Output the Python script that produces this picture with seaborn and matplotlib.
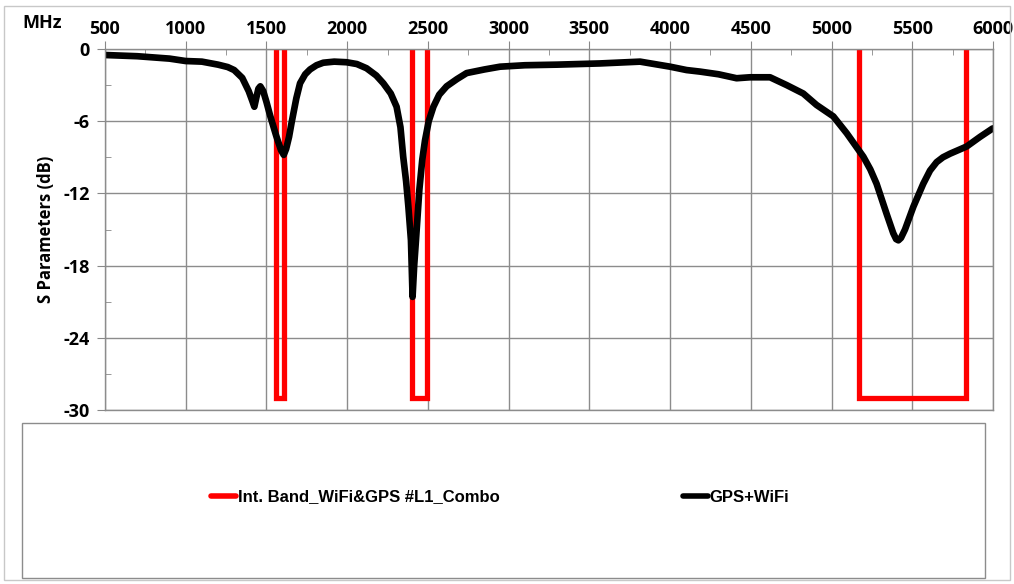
import numpy as np
import pandas as pd
import matplotlib
matplotlib.use('Agg')
import matplotlib.pyplot as plt
from matplotlib.patches import Rectangle
from matplotlib.ticker import MultipleLocator
import seaborn as sns

# measured S11 of the GPS+WiFi antenna (MHz, dB)
freq_mhz = [500, 700, 900, 1000, 1100, 1200, 1260, 1300, 1350, 1390, 1412, 1425, 1438,
            1450, 1462, 1480, 1500, 1522, 1560, 1590, 1607, 1622, 1640, 1656, 1685, 1708,
            1740, 1770, 1810, 1852, 1920, 1996, 2060, 2120, 2180, 2224, 2270, 2306, 2330,
            2347, 2365, 2379, 2395, 2405, 2415, 2426, 2447, 2465, 2482, 2505, 2534, 2570,
            2616, 2680, 2740, 2850, 2947, 3100, 3300, 3566, 3814, 4000, 4102, 4186, 4300,
            4412, 4495, 4619, 4722, 4825, 4907, 5011, 5094, 5197, 5240, 5279, 5341, 5382,
            5400, 5414, 5430, 5455, 5507, 5568, 5610, 5651, 5690, 5734, 5837, 5920, 5998]
s11_db = [-0.5, -0.6, -0.8, -1.0, -1.05, -1.3, -1.5, -1.75, -2.4, -3.5, -4.3, -4.8, -4.0,
          -3.3, -3.1, -3.5, -4.4, -5.5, -7.2, -8.4, -8.8, -8.3, -7.3, -6.1, -4.1, -2.85,
          -2.1, -1.7, -1.35, -1.14, -1.05, -1.1, -1.25, -1.6, -2.2, -2.85, -3.7, -4.8, -6.5,
          -8.95, -11.0, -13.1, -15.9, -20.6, -18.0, -15.9, -11.7, -9.2, -7.6, -6.0, -4.8,
          -3.8, -3.1, -2.5, -2.0, -1.7, -1.47, -1.35, -1.3, -1.2, -1.05, -1.47, -1.75, -1.88,
          -2.1, -2.43, -2.35, -2.35, -3.0, -3.7, -4.65, -5.6, -7.0, -8.95, -10.0, -11.2,
          -13.7, -15.3, -15.8, -15.9, -15.7, -15.0, -13.1, -11.2, -10.1, -9.4, -9.0, -8.7,
          -8.1, -7.3, -6.6]

# intended bands: GPS L1, WiFi 2.4 GHz, WiFi 5 GHz
band_lo = [1559, 2400, 5168]
band_hi = [1610, 2495, 5833]
band_top = 0
band_floor = -29

x_ticks = [500, 1000, 1500, 2000, 2500, 3000, 3500, 4000, 4500, 5000, 5500, 6000]
y_ticks = [0, -6, -12, -18, -24, -30]

sns.set_style('white')
plt.rcParams['font.family'] = ['Open Sans', 'DejaVu Sans']
plt.rcParams['axes.unicode_minus'] = False
plt.rcParams['text.color'] = 'black'
plt.rcParams['axes.labelcolor'] = 'black'
plt.rcParams['xtick.labelcolor'] = 'black'
plt.rcParams['ytick.labelcolor'] = 'black'

curve = pd.DataFrame({'freq': freq_mhz, 'db': s11_db})
rows = []
for i, (lo, hi) in enumerate(zip(band_lo, band_hi)):
    for x, y in [(lo, band_top), (lo, band_floor), (hi, band_floor), (hi, band_top)]:
        rows.append({'band': i, 'freq': x, 'db': y})
bands = pd.DataFrame(rows)

fig = plt.figure(figsize=(10.14, 5.84), dpi=100)
fig.patches.append(Rectangle((0.004, 0.007), 0.992, 0.982, transform=fig.transFigure,
                             fill=False, edgecolor='#c8c8c8', lw=1))
ax = fig.add_axes([105/1014, 1-410/584, 888/1014, 361/584])

sns.lineplot(data=bands, x='freq', y='db', units='band', estimator=None, sort=False,
             color='#ff0000', lw=3.8, ax=ax, legend=False, solid_joinstyle='miter')
sns.lineplot(data=curve, x='freq', y='db', sort=False, color='black', lw=4.8, ax=ax,
             legend=False, solid_joinstyle='round')

ax.set_xlim(500, 6000)
ax.set_ylim(-30, 0)
ax.xaxis.tick_top()
ax.set_xticks(x_ticks)
ax.set_yticks(y_ticks)
ax.xaxis.set_minor_locator(MultipleLocator(250))
ax.yaxis.set_minor_locator(MultipleLocator(3))
ax.tick_params(axis='both', which='major', direction='out', length=6, color='#888888',
               labelsize=13)
ax.tick_params(axis='both', which='minor', direction='in', length=4, color='#888888')
ax.tick_params(axis='x', which='both', top=True, bottom=False, pad=2)
ax.tick_params(axis='y', which='both', left=True, right=False, pad=5)
for lab in ax.get_xticklabels() + ax.get_yticklabels():
    lab.set_fontweight('bold')
ax.grid(True, which='major', color='#8c8c8c', lw=1)
for s in ax.spines.values():
    s.set_color('#8c8c8c')
    s.set_linewidth(1)
ax.set_xlabel('')
ax.set_ylabel('S Parameters (dB)', fontsize=12, fontweight='bold', labelpad=6)

fig.text(42/1014, 1-23/584, 'MHz', fontsize=13, fontweight='bold', ha='center', va='center')

# legend box under the plot
fig.patches.append(Rectangle((22/1014, 1-578/584), 963/1014, 155/584, transform=fig.transFigure,
                             fill=False, edgecolor='#8c8c8c', lw=1))
h1, = ax.plot([], [], color='#ff0000', lw=4)
h2, = ax.plot([], [], color='black', lw=4)
leg = fig.legend([h1, h2], ['Int. Band_WiFi&GPS #L1_Combo', 'GPS+WiFi'], ncol=2,
                 loc='center left', bbox_to_anchor=(196/1014, 1-497/584), frameon=False,
                 handlelength=1.5, handletextpad=0.1, columnspacing=11,
                 labelcolor='black',
                 prop={'family': ['Liberation Sans', 'DejaVu Sans'], 'weight': 'bold', 'size': 12})

plt.savefig('out.png', dpi=100)
plt.close()
